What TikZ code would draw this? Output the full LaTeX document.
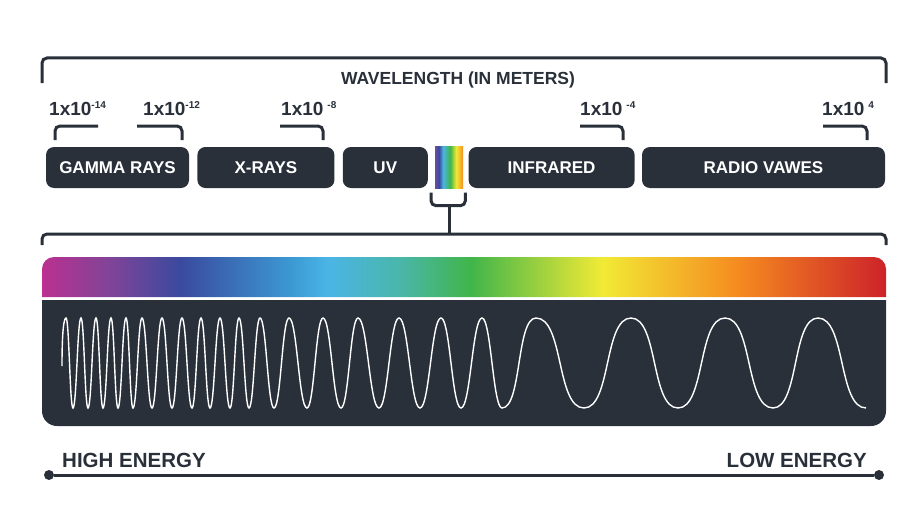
\documentclass[tikz,border=0pt]{standalone}
\usepackage{fontspec}
\setmainfont{Liberation Sans}
\usepackage{tikz}
\usetikzlibrary{positioning}

\definecolor{ink}{RGB}{41,48,58}
\definecolor{sMag}{RGB}{187,48,144}
\definecolor{sPur}{RGB}{128,68,152}
\definecolor{sBlu}{RGB}{58,74,158}
\definecolor{sMid}{RGB}{59,152,210}
\definecolor{sSky}{RGB}{74,181,230}
\definecolor{sTea}{RGB}{74,182,170}
\definecolor{sGrn}{RGB}{64,181,74}
\definecolor{sYel}{RGB}{242,234,53}
\definecolor{sOra}{RGB}{245,138,32}
\definecolor{sRed}{RGB}{204,34,41}
\definecolor{sVio}{RGB}{106,76,156}

\pgfdeclarehorizontalshading{spectrum}{100bp}{color(0bp)=(sMag); color(25bp)=(sMag);
  color(29bp)=(sPur); color(33.2bp)=(sBlu); color(39.7bp)=(sMid); color(41.9bp)=(sSky);
  color(46.2bp)=(sTea); color(50.4bp)=(sGrn); color(58.2bp)=(sYel); color(66.3bp)=(sOra);
  color(75bp)=(sRed); color(100bp)=(sRed)}
\pgfdeclarehorizontalshading{minispec}{100bp}{color(0bp)=(sVio); color(25bp)=(sVio);
  color(32bp)=(sBlu); color(39bp)=(sSky); color(51.8bp)=(sGrn); color(62.5bp)=(sYel);
  color(75bp)=(sOra); color(100bp)=(sOra)}

\newcommand{\expo}[1]{\raisebox{6.5pt}{\fontsize{10}{10}\selectfont #1}}

\begin{document}
\begin{tikzpicture}[x=1pt, y=-1pt,
  brk/.style = {draw=ink, line width=3pt, rounded corners=5pt},
  band/.style = {fill=ink, rounded corners=8pt, text=white, inner sep=0pt,
    minimum height=41pt, font=\fontsize{17}{20}\selectfont\bfseries},
  tag/.style = {text=ink, inner sep=0pt, anchor=base west,
    font=\fontsize{19}{20}\selectfont\bfseries},
  energy/.style = {text=ink, inner sep=0pt, font=\fontsize{20.5}{22}\selectfont\bfseries},
  dot/.style = {circle, fill=ink, minimum size=10pt, inner sep=0pt},
  wave/.style = {draw=white, line width=1.4pt}]
  \useasboundingbox (0,0) rectangle (920,511);

  \draw[brk] (42,83) |- (886,58) -- (886,83);
  \node[energy, anchor=base, font=\fontsize{17.5}{20}\selectfont\bfseries] (title)
    at (458,84) {WAVELENGTH (IN METERS)};

  \node[tag] (e14) at (49,115) {1x10\expo{-14}};
  \node[tag] (e12) at (143,115) {1x10\expo{-12}};
  \node[tag] (e8) at (281,115) {1x10\hspace{4pt}\expo{-8}};
  \node[tag] (e4m) at (580,115) {1x10\hspace{4pt}\expo{-4}};
  \node[tag] (e4) at (822,115) {1x10\hspace{4pt}\expo{4}};
  \draw[brk] (98,126) -| (55,140);
  \draw[brk] (137,126) -| (182,140);
  \draw[brk] (280,126) -| (323,140);
  \draw[brk] (580,126) -| (623,140);
  \draw[brk] (823,126) -| (867,140);

  \node[band, minimum width=143pt] (gamma) at (117.5,167.5) {GAMMA RAYS};
  \node[band, minimum width=137pt, right=8pt of gamma] (xray) {X-RAYS};
  \node[band, minimum width=85pt, right=8pt of xray] (uv) {UV};
  \node[shading=minispec, minimum width=28pt, minimum height=42pt, inner sep=0pt,
    right=7pt of uv] (spec) {};
  \node[band, minimum width=166pt, right=5pt of spec] (ir) {INFRARED};
  \node[band, minimum width=243pt, right=7pt of ir] (radio) {RADIO VAWES};

  \coordinate (knot) at ([yshift=-17pt]spec.south);
  \coordinate (fork) at (knot |- 0,234);
  \draw[brk] ([xshift=-4pt,yshift=-4pt]spec.south west) |- (knot)
    -| ([xshift=2pt,yshift=-4pt]spec.south east);
  \draw[brk] (knot) -- (fork);
  \draw[brk] (42,245) |- (fork) -| (886,245);

  \shade[shading=spectrum] (42,297) [rounded corners=12pt] -- (42,257) -- (886,257)
    [sharp corners] -- (886,297) -- cycle;
  \fill[ink] (42,300) [rounded corners=15pt] -- (42,426) -- (886,426)
    [sharp corners] -- (886,300) -- cycle;

  \draw[wave] (62,366) .. controls (62,330) and (64,318) .. (66,318)
    foreach \x [count=\i, remember=\x as \lx (initially 66),
      evaluate=\i as \ya using {mod(\i,2)==1 ? 318 : 408},
      evaluate=\i as \yb using {mod(\i,2)==1 ? 408 : 318}]
    in {73,81,88,96,103,111,118,126,133,142,152,162,172,182,192,201,210,220,230,
        239,249,260,274,289,307,323,341,358,379,399,420,441,461,482,502,536,584,
        631,678,725,773,818,866}
    { .. controls ({\lx+(\x-\lx>30 ? 0.58 : 0.45)*(\x-\lx)},\ya)
        and ({\x-(\x-\lx>30 ? 0.58 : 0.45)*(\x-\lx)},\yb) .. (\x,\yb) };

  \node[energy, anchor=base west] (high) at (62,467) {HIGH ENERGY};
  \node[energy, anchor=base east] (low) at (867,467) {LOW ENERGY};
  \node[dot] (hi) at (49,475) {};
  \node[dot] (lo) at (879,475) {};
  \draw[ink, line width=3pt] (hi) -- (lo);
\end{tikzpicture}
\end{document}
